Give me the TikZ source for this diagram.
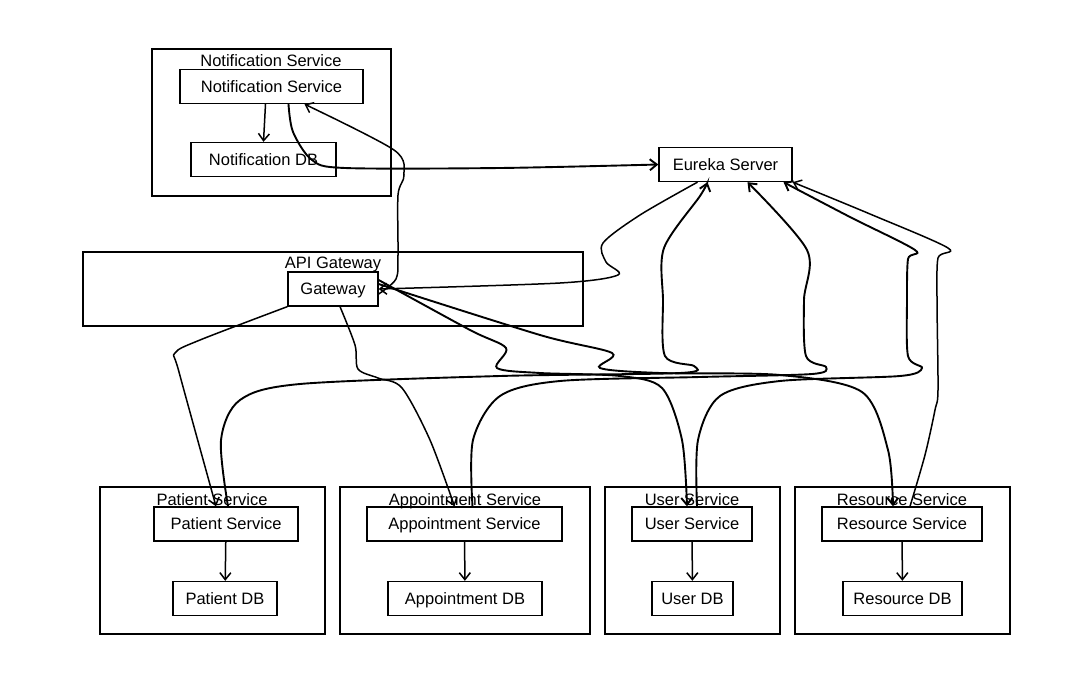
\documentclass[tikz,border=0pt]{standalone}
\usepackage{fontspec}
\setmainfont{Liberation Sans}
\usetikzlibrary{arrows.meta}

\begin{document}
\begin{tikzpicture}[x=1pt,y=-1pt,
    every node/.style={font=\fontsize{16.5}{18}\selectfont},
    grp/.style={draw, line width=1.3pt, inner sep=0pt, minimum height=147pt},
    svc/.style={draw, line width=1.3pt, inner sep=0pt, minimum height=34pt, text height=14pt, text depth=2.5pt},
    ttl/.style={inner sep=0pt, text height=14pt, text depth=2.5pt},
    arr/.style={-{Straight Barb[length=7pt,width=11pt]}, line width=1.5pt},
    link/.style={arr, line width=1.9pt}]
    \useasboundingbox [fill=white] (0,0) rectangle (1080,688);
    % notification block
    \node[grp, minimum width=239pt] (ntfgrp) at (271.5,122.5) {};
    \node[ttl] (ntfttl) at (271,61) {Notification Service};
    \node[svc, minimum width=183pt] (ntfsvc) at (271.5,86.5) {Notification Service};
    \node[svc, minimum width=145pt] (ntfdb) at (263.5,159.5) {Notification DB};
    % discovery
    \node[svc, minimum width=133pt] (eureka) at (725.5,164.5) {Eureka Server};
    % gateway block
    \node[grp, minimum width=500pt, minimum height=74pt] (apigrp) at (333,289) {};
    \node[ttl] (apittl) at (333,263) {API Gateway};
    \node[svc, minimum width=90pt] (gw) at (333,289) {Gateway};
    % patient block
    \node[grp, minimum width=225pt] (patgrp) at (212.5,560.5) {};
    \node[ttl] (patttl) at (212,500) {Patient Service};
    \node[svc, minimum width=144pt] (patsvc) at (226,524) {Patient Service};
    \node[svc, minimum width=104pt] (patdb) at (225,598.5) {Patient DB};
    % appointment block
    \node[grp, minimum width=250pt] (aptgrp) at (465,560.5) {};
    \node[ttl] (aptttl) at (465,500) {Appointment Service};
    \node[svc, minimum width=195pt] (aptsvc) at (464.5,524) {Appointment Service};
    \node[svc, minimum width=154pt] (aptdb) at (465,598.5) {Appointment DB};
    % user block
    \node[grp, minimum width=175pt] (usrgrp) at (692.5,560.5) {};
    \node[ttl] (usrttl) at (692,500) {User Service};
    \node[svc, minimum width=120pt] (usrsvc) at (692,524) {User Service};
    \node[svc, minimum width=81pt] (usrdb) at (692.5,598.5) {User DB};
    % resource block
    \node[grp, minimum width=215pt] (resgrp) at (902.5,560.5) {};
    \node[ttl] (resttl) at (902,500) {Resource Service};
    \node[svc, minimum width=160pt] (ressvc) at (902,524) {Resource Service};
    \node[svc, minimum width=119pt] (resdb) at (902.5,598.5) {Resource DB};
    % service to database
    \draw[arr] ([xshift=-6pt]ntfsvc.south) -- (ntfdb.north);
    \draw[arr] (patsvc) -- (patdb);
    \draw[arr] (aptsvc) -- (aptdb);
    \draw[arr] (usrsvc) -- (usrdb);
    \draw[arr] (ressvc) -- (resdb);
    % notification and gateway links
    \draw[link] plot[smooth, tension=0.5] coordinates {([xshift=17pt]ntfsvc.south) (293,132) (312,160) (345,168) (500,168) (eureka.west)};
    \draw[arr] plot[smooth, tension=0.5] coordinates {([yshift=-5pt]gw.east) (396,279) (398,255) (398,195) (404,175) (394,150) ([xshift=33pt]ntfsvc.south)};
    \draw[arr] plot[smooth, tension=0.5] coordinates {([xshift=-28pt]eureka.south) (640,215) (603,243) (606,262) (618,275) (560,283) (gw.east)};
    % gateway to services
    \draw[arr] plot[smooth, tension=0.5] coordinates {(gw.south west) (200,340) (175,353) (179,372) ([xshift=-10pt]patsvc.north)};
    \draw[arr] plot[smooth, tension=0.5] coordinates {([xshift=7pt]gw.south) (355,345) (358,369) (378,378) (402,388) (430,440) ([xshift=-10pt]aptsvc.north)};
    \draw[link] plot[smooth, tension=0.5] coordinates {([yshift=9pt]gw.east) (470,330) (506,348) (497,368) (540,373) (620,376) (662,388) (682,440) ([xshift=-5pt]usrsvc.north)};
    \draw[link] plot[smooth, tension=0.5] coordinates {([yshift=5pt]gw.east) (540,335) (612,353) (600,368) (660,373) (780,375) (862,392) (888,450) ([xshift=-9pt]ressvc.north)};
    % services to discovery
    \draw[link] plot[smooth, tension=0.5] coordinates {([xshift=2pt]patsvc.north) (221,440) (240,400) (300,384) (500,376) (680,373) (694,366) (665,356) (663,300) (664,248) (700,196) ([xshift=-18pt]eureka.south)};
    \draw[link] plot[smooth, tension=0.5] coordinates {([xshift=8pt]aptsvc.north) (473,440) (500,396) (560,381) (700,377) (812,374) (826,367) (806,356) (804,300) (807,250) ([xshift=22pt]eureka.south)};
    \draw[link] plot[smooth, tension=0.5] coordinates {([xshift=5pt]usrsvc.north) (698,440) (720,396) (780,381) (900,376) (922,368) (908,356) (907,300) (908,259) (915,250) (850,217) ([xshift=58pt]eureka.south)};
    \draw[arr] plot[smooth, tension=0.5] coordinates {([xshift=8pt]ressvc.north) (925,455) (935,410) (938,390) (937,300) (938,258) (948,248) (870,214) (eureka.south east)};
\end{tikzpicture}
\end{document}
